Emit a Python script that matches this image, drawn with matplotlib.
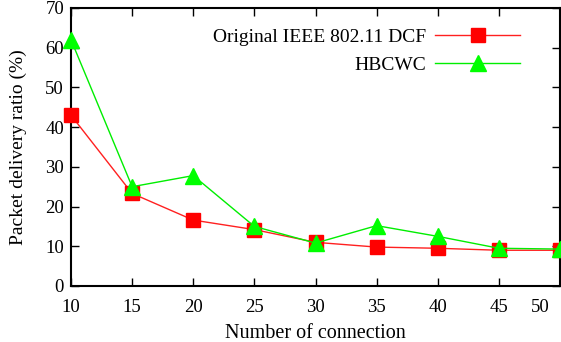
import matplotlib
matplotlib.use("Agg")
import matplotlib.pyplot as plt
import matplotlib.transforms as mtransforms

connections = [10, 15, 20, 25, 30, 35, 40, 45, 50]
dcf = [43, 23.3, 16.6, 14.2, 11, 9.8, 9.5, 9.0, 9.0]
hbcwc = [62, 25, 27.8, 15, 10.8, 15.2, 12.5, 9.5, 9.3]

plt.rcParams["font.family"] = "Liberation Serif"
plt.rcParams["font.size"] = 14

fig = plt.figure(figsize=(5.61, 3.42), dpi=100)
ax = fig.add_axes([71 / 561, 1 - 286 / 342, 489 / 561, 278 / 342])

ax.plot(connections, dcf, color="#ff2020", lw=1, marker="s", markersize=10.5,
        markerfacecolor="#ff0000", markeredgecolor="#ff0000",
        label="Original IEEE 802.11 DCF", clip_on=False, zorder=3)
ax.plot(connections, hbcwc, color="#00ee00", lw=1, marker="^", markersize=11,
        markerfacecolor="#00ff00", markeredgecolor="#00ff00",
        label="HBCWC", clip_on=False, zorder=4)

ax.set_xlim(10, 50)
ax.set_ylim(0, 70)
ax.set_xticks(connections)
ax.set_xticklabels([str(c) for c in connections])
ax.set_yticks(range(0, 71, 10))
ax.tick_params(direction="in", top=True, right=True, length=6, width=1,
               labelsize=13.5)
ax.tick_params(axis="x", pad=9)
ax.tick_params(axis="y", pad=5)
# last label sits left of its tick in the original
lbl = ax.get_xticklabels()[-1]
lbl.set_transform(lbl.get_transform() +
                  mtransforms.ScaledTranslation(-0.2, 0, fig.dpi_scale_trans))
for s in ax.spines.values():
    s.set_linewidth(1.5)

ax.set_xlabel("Number of connection", fontsize=14.5, labelpad=6)
ax.set_ylabel("Packet delivery ratio (%)", fontsize=14, labelpad=13)

ax.legend(loc="upper right", bbox_to_anchor=(0.955, 0.99), frameon=False,
          markerfirst=False, handlelength=4.4, handletextpad=0.45,
          fontsize=14, labelspacing=0.55)

fig.savefig("out.png", dpi=100)
